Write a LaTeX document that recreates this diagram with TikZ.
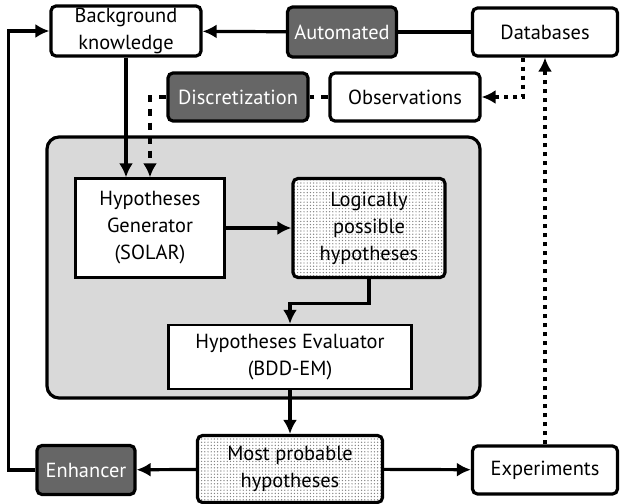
\documentclass[tikz,border=0pt]{standalone}
\usepackage{fontspec}
\setmainfont{PT Sans}
\usetikzlibrary{arrows.meta, patterns.meta, positioning}

\begin{document}
\begin{tikzpicture}[x=0.5pt, y=-0.5pt, font=\fontsize{10.2}{13.5}\selectfont,
		box/.style={draw, line width=1.6pt, rounded corners=2.5pt, fill=white, align=center, inner sep=0pt},
		darkbox/.style={box, fill=black!60, text=white},
		plainbox/.style={draw, line width=1.2pt, fill=white, align=center, inner sep=0pt},
		dotbox/.style={box, preaction={fill=white}, pattern={Dots[distance=1.6pt, radius=0.35pt]}, pattern color=black!50},
		arr/.style={line width=1.6pt, -{Latex[length=7pt, width=7pt]}},
		ln/.style={line width=1.6pt},
		dotln/.style={line width=1.7pt, dash pattern=on 2pt off 2.5pt},
		dashln/.style={line width=1.6pt, dash pattern=on 3.5pt off 3.5pt}]
		\useasboundingbox (0,0) rectangle (620,503);
		% engine
		\draw[line width=1.6pt, rounded corners=6pt, fill=black!15] (47,137) rectangle (480,398);
		% nodes
		\node[box, minimum width=75pt, minimum height=25pt] (bk) at (126,31) {Background\\knowledge};
		\node[darkbox, minimum width=54.5pt, minimum height=25pt] (auto) at (342,32) {Automated};
		\node[box, minimum width=72.5pt, minimum height=24pt] (db) at (545,32) {Databases};
		\node[darkbox, minimum width=70pt, minimum height=24pt] (disc) at (238,97) {Discretization};
		\node[box, minimum width=75pt, minimum height=24pt] (obs) at (405,97) {Observations};
		\node[plainbox, minimum width=74.5pt, minimum height=49.5pt] (gen) at (150,228) {Hypotheses\\Generator\\(SOLAR)};
		\node[dotbox, minimum width=76pt, minimum height=49.5pt] (lph) at (369,228) {Logically\\possible\\hypotheses};
		\node[plainbox, minimum width=121.5pt, minimum height=32pt] (eval) at (290,357) {Hypotheses Evaluator\\(BDD-EM)};
		\node[dotbox, minimum width=92.5pt, minimum height=33.5pt] (mph) at (290,469) {Most probable\\hypotheses};
		\node[darkbox, minimum width=49pt, minimum height=24.5pt] (enh) at (86,470) {Enhancer};
		\node[box, minimum width=72.5pt, minimum height=24pt] (exp) at (545,470) {Experiments};
		% connectors
		\draw[ln] (db) -- (auto);
		\draw[arr] (auto) -- (bk);
		\draw[arr] (enh.west) -- ++(-27,0) |- (bk.west);
		\draw[arr] (bk.south) -- (bk.south |- gen.north);
		\draw[dashln] (obs) -- (disc);
		\draw[dashln, arr] (disc.west) -| (gen.north);
		\draw[dotln, arr] ([xshift=-11pt]db.south) |- (obs.east);
		\draw[dotln, arr] (exp.north) -- (db.south);
		\draw[arr] (gen) -- (lph);
		\draw[arr] (lph.south) -- ++(0,24) -| (eval.north);
		\draw[arr] (eval) -- (mph);
		\draw[arr] (mph) -- (enh);
		\draw[arr] (mph) -- (exp);
	\end{tikzpicture}
\end{document}
